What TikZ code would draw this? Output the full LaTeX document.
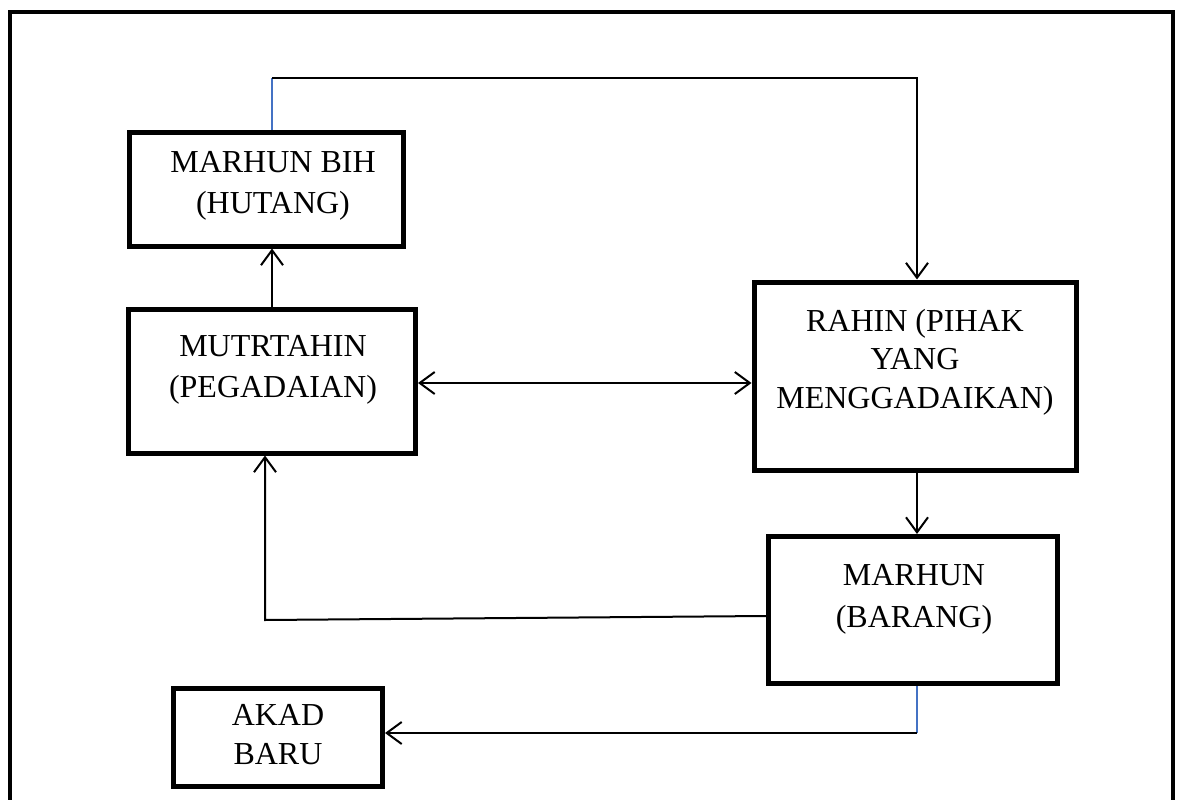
\documentclass[tikz,border=0pt]{standalone}
\usepackage{fontspec}
\setmainfont{Liberation Serif}
\usetikzlibrary{arrows.meta,calc}
\definecolor{wordblue}{HTML}{4472C4}
\begin{document}
\begin{tikzpicture}[x=1pt,y=-1pt,
  box/.style={draw,line width=5pt,rectangle,inner sep=0pt},
  lbl/.style={font=\fontsize{32}{39}\selectfont,anchor=base,inner sep=0pt},
  conn/.style={line width=2pt},
  arr/.style={conn,-{Straight Barb[length=15pt,width=22pt]}},
  blueline/.style={line width=2pt,draw=wordblue}]
\useasboundingbox (0,0) rectangle (1179,800);
\fill[white] (0,0) rectangle (1179,800);
% outer frame (open at bottom)
\draw[line width=4pt] (10,800) -- (10,12) -- (1173,12) -- (1173,800);
% boxes
\node[box,minimum width=274pt,minimum height=114pt] (bih) at (266,189) {};
\node[box,minimum width=287pt,minimum height=144pt] (mut) at (272,381) {};
\node[box,minimum width=322pt,minimum height=188pt] (rah) at (915,376) {};
\node[box,minimum width=289pt,minimum height=147pt] (mar) at (913,610) {};
\node[box,minimum width=209pt,minimum height=98pt] (akad) at (278,737) {};
% texts
\node[lbl] (t1) at (273,172) {MARHUN BIH};
\node[lbl] (t2) at (273,213) {(HUTANG)};
\node[lbl] (t3) at (273,356) {MUTRTAHIN};
\node[lbl] (t4) at (273,397) {(PEGADAIAN)};
\node[lbl] (t5) at (915,331) {RAHIN (PIHAK};
\node[lbl] (t6) at (915,369) {YANG};
\node[lbl] (t7) at (915,408) {MENGGADAIKAN)};
\node[lbl] (t8) at (914,585) {MARHUN};
\node[lbl] (t9) at (914,627) {(BARANG)};
\node[lbl] (t10) at (278,725) {AKAD};
\node[lbl] (t11) at (278,764) {BARU};
% connector coordinates
\coordinate (ctop) at (272,78);
\coordinate (cright) at (917,78);
\coordinate (cleft) at (265,620);
\coordinate (cbot) at (917,733);
% MARHUN BIH -> RAHIN (top route)
\draw[blueline] (ctop |- bih.north) -- (ctop);
\draw[arr] (ctop) -- (cright) -- (cright |- rah.north);
% MUTRTAHIN -> MARHUN BIH
\draw[arr] (ctop |- mut.north) -- (ctop |- bih.south);
% MUTRTAHIN <-> RAHIN
\draw[conn,{Straight Barb[length=15pt,width=22pt]}-{Straight Barb[length=15pt,width=22pt]}] (mut.east |- 0,383) -- (rah.west |- 0,383);
% RAHIN -> MARHUN
\draw[arr] (cright |- rah.south) -- (cright |- mar.north);
% MARHUN -> MUTRTAHIN
\draw[arr] (mar.west |- 0,616) -- (cleft) -- (cleft |- mut.south);
% MARHUN -> AKAD BARU
\draw[blueline] (cbot |- mar.south) -- (cbot);
\draw[arr] (cbot) -- (akad.east |- cbot);
\end{tikzpicture}
\end{document}
